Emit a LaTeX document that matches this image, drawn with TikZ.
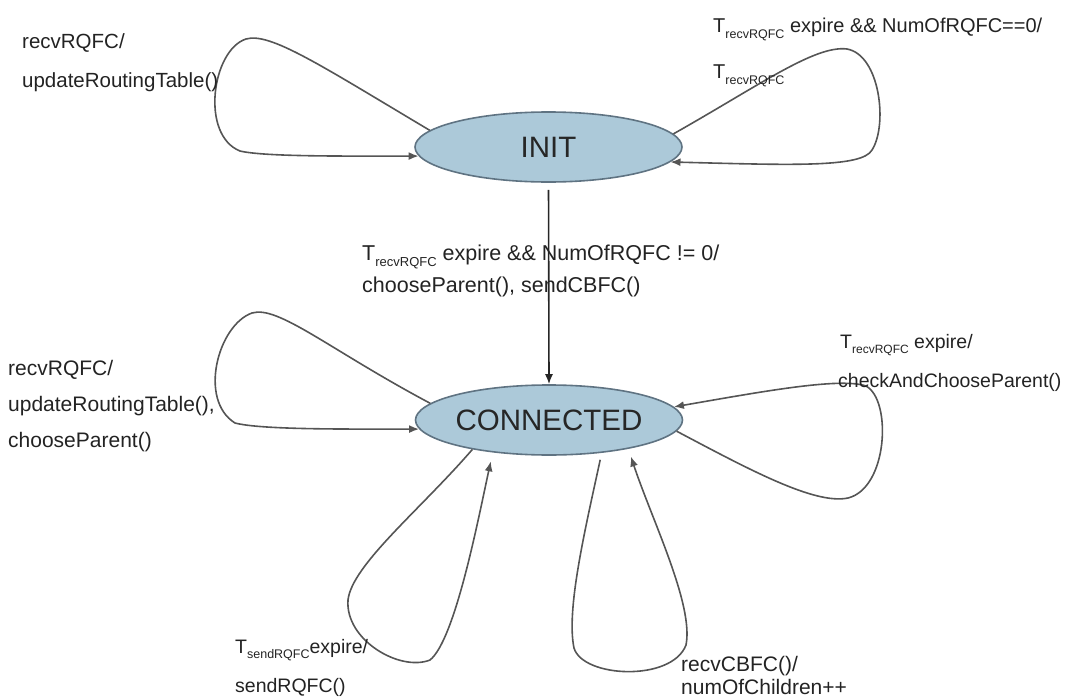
\documentclass[tikz,border=0pt]{standalone}
\usepackage{fontspec}
\setmainfont{Liberation Sans}
\usetikzlibrary{shapes.geometric,arrows.meta}
\definecolor{statefill}{RGB}{172,201,217}
\definecolor{statedraw}{RGB}{95,115,130}
\definecolor{linegray}{RGB}{85,85,85}
\definecolor{textgray}{RGB}{35,35,35}
\newcommand\Tsb[2][12]{T\raisebox{-0.3em}{\fontsize{#1}{#1}\selectfont #2}}
\newcommand\fs[1]{\fontsize{#1}{#1}\selectfont}
\tikzset{
  state/.style={ellipse, draw=statedraw, line width=1.6pt, fill=statefill,
    minimum width=267pt, minimum height=70pt, inner sep=0pt,
    font=\fontsize{29.5}{32}\selectfont, text=black!85},
  selfloop/.style={draw=linegray, line width=1.6pt, -{Latex[length=10pt,width=8pt]}},
  lbl/.style={anchor=base west, inner sep=0pt, text=textgray},
}
\begin{document}
\begin{tikzpicture}[x=1pt,y=-1pt]
\useasboundingbox (0,0) rectangle (1066,699);
\node[state] (init) at (548.5,147) {INIT};
\node[state] (conn) at (549,420) {CONNECTED};

% INIT -> CONNECTED
\draw[line width=1.6pt, draw=black!85, -{Latex[length=10pt,width=8pt]}, shorten <=7pt] (init.south) -- (conn.north);
\node[lbl, font=\fs{21.5}] (m1) at (362,260) {\Tsb[13]{recvRQFC} expire \&\& NumOfRQFC != 0/};
\node[lbl, font=\fs{21.5}] (m2) at (362,292) {chooseParent(), sendCBFC()};

% INIT top-left loop
\draw[selfloop] (init.172) .. controls (320,65) and (270,32) .. (246,39)
  .. controls (212,50) and (200,135) .. (240,151)
  .. controls (265,157) and (350,156) .. (init.184);
\node[lbl, font=\fs{20.5}] (a1) at (22,48) {recvRQFC/};
\node[lbl, font=\fs{20.5}] (a2) at (22,87) {updateRoutingTable()};

% INIT top-right loop
\draw[selfloop] (init.6) .. controls (760,85) and (815,45) .. (847,49)
  .. controls (880,55) and (888,125) .. (872,150)
  .. controls (862,168) and (790,165) .. (init.353);
\node[lbl, font=\fs{20}] (b1) at (713,32) {\Tsb[12.5]{recvRQFC} expire \&\& NumOfRQFC==0/};
\node[lbl, font=\fs{20}] (b2) at (713,78) {\Tsb[12.5]{recvRQFC}};

% CONNECTED left loop
\draw[selfloop] (conn.172) .. controls (330,350) and (278,305) .. (252,313)
  .. controls (218,325) and (198,400) .. (235,423)
  .. controls (262,430) and (350,429) .. (conn.184);
\node[lbl, font=\fs{21}] (c1) at (8,375) {recvRQFC/};
\node[lbl, font=\fs{21}] (c2) at (8,411) {updateRoutingTable(),};
\node[lbl, font=\fs{21}] (c3) at (8,447) {chooseParent()};

% CONNECTED right loop
\draw[selfloop] (conn.355) .. controls (750,470) and (815,505) .. (848,498)
  .. controls (888,488) and (892,400) .. (866,386)
  .. controls (840,377) and (760,392) .. (conn.6);
\node[lbl, font=\fs{19.5}] (d1) at (840,348) {\Tsb[12]{recvRQFC} expire/};
\node[lbl, font=\fs{19.5}] (d2) at (838,387) {checkAndChooseParent()};

% CONNECTED bottom-left loop
\draw[selfloop, shorten >=9pt] (conn.201) .. controls (420,510) and (352,565) .. (348,600)
  .. controls (345,640) and (400,672) .. (430,660)
  .. controls (455,640) and (478,520) .. (conn.210);
\node[lbl, font=\fs{19.5}] (e1) at (235,653) {\Tsb[12.5]{sendRQFC}expire/};
\node[lbl, font=\fs{19.5}] (e2) at (235,692) {sendRQFC()};

% CONNECTED bottom-right loop
\draw[selfloop, shorten <=7pt, shorten >=8pt] (conn.328) .. controls (585,530) and (566,610) .. (574,648)
  .. controls (583,678) and (672,682) .. (686,645)
  .. controls (694,605) and (652,520) .. (conn.340);
\node[lbl, font=\fs{21}] (f1) at (681,671) {recvCBFC()/};
\node[lbl, font=\fs{21}] (f2) at (681,694.5) {numOfChildren++};
\end{tikzpicture}
\end{document}
